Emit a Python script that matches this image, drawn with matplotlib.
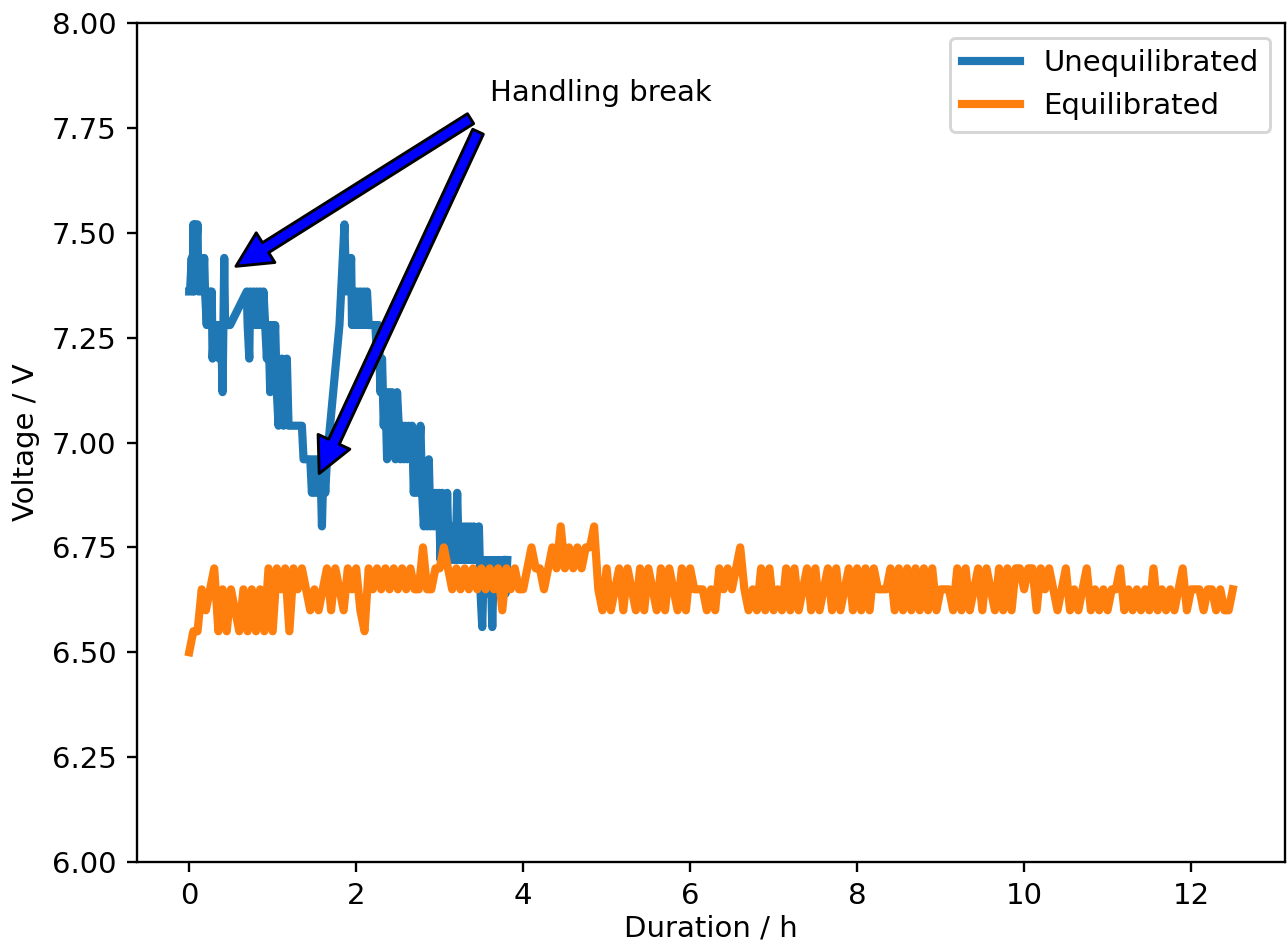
import numpy as np
import matplotlib
matplotlib.use("Agg")
import matplotlib.pyplot as plt

# Unequilibrated series (time in h, voltage in V)
unequil_t = [0.00, 0.01, 0.03, 0.04, 0.05, 0.06, 0.07, 0.08, 0.10, 0.11, 0.13, 0.14, 0.16, 0.18,
             0.19, 0.21, 0.22, 0.24, 0.25, 0.27, 0.28, 0.30, 0.32, 0.34, 0.36, 0.38, 0.40, 0.42,
             0.43, 0.45, 0.49, 0.69, 0.70, 0.72, 0.73, 0.75, 0.77, 0.79, 0.81, 0.83, 0.85, 0.87,
             0.89, 0.91, 0.93, 0.95, 0.97, 0.99, 1.01, 1.03, 1.05, 1.07, 1.09, 1.11, 1.13, 1.15,
             1.17, 1.19, 1.23, 1.27, 1.31, 1.35, 1.37, 1.41, 1.45, 1.47, 1.49, 1.51, 1.53, 1.55,
             1.57, 1.59, 1.61, 1.63, 1.65, 1.80, 1.86, 1.88, 1.90, 1.92, 1.94, 1.95, 1.97, 1.99,
             2.01, 2.03, 2.05, 2.07, 2.09, 2.11, 2.13, 2.15, 2.19, 2.23, 2.25, 2.27, 2.29, 2.31,
             2.33, 2.35, 2.37, 2.39, 2.41, 2.43, 2.45, 2.47, 2.49, 2.51, 2.53, 2.55, 2.57, 2.59,
             2.61, 2.63, 2.65, 2.67, 2.69, 2.71, 2.73, 2.75, 2.77, 2.79, 2.81, 2.83, 2.85, 2.87,
             2.89, 2.91, 2.93, 2.95, 2.97, 2.99, 3.01, 3.03, 3.05, 3.07, 3.09, 3.11, 3.13, 3.15,
             3.17, 3.19, 3.21, 3.23, 3.25, 3.27, 3.29, 3.31, 3.33, 3.35, 3.37, 3.39, 3.41, 3.43,
             3.45, 3.47, 3.49, 3.51, 3.53, 3.55, 3.57, 3.59, 3.61, 3.63, 3.65, 3.67, 3.69, 3.71,
             3.73, 3.75, 3.77, 3.79, 3.81]
unequil_v = [7.36, 7.36, 7.44, 7.36, 7.52, 7.36, 7.52, 7.44, 7.52, 7.36, 7.44, 7.36, 7.36, 7.44,
             7.36, 7.28, 7.36, 7.36, 7.28, 7.36, 7.20, 7.28, 7.28, 7.28, 7.20, 7.28, 7.12, 7.44,
             7.28, 7.28, 7.28, 7.36, 7.28, 7.20, 7.36, 7.28, 7.36, 7.28, 7.36, 7.28, 7.36, 7.28,
             7.36, 7.28, 7.20, 7.28, 7.12, 7.28, 7.20, 7.28, 7.12, 7.04, 7.12, 7.20, 7.04, 7.12,
             7.20, 7.04, 7.04, 7.04, 7.04, 7.04, 6.96, 6.96, 6.96, 6.88, 6.96, 6.88, 6.96, 6.88,
             6.96, 6.80, 6.96, 6.88, 6.96, 7.28, 7.52, 7.36, 7.44, 7.36, 7.44, 7.28, 7.36, 7.28,
             7.36, 7.28, 7.36, 7.28, 7.36, 7.28, 7.36, 7.28, 7.28, 7.28, 7.20, 7.28, 7.12, 7.20,
             7.04, 7.12, 6.96, 7.12, 7.04, 7.12, 7.04, 6.96, 7.12, 7.04, 6.96, 7.04, 6.96, 7.04,
             6.96, 7.04, 6.96, 7.04, 6.88, 6.96, 6.88, 6.96, 7.04, 6.88, 6.80, 6.88, 6.80, 6.96,
             6.80, 6.88, 6.80, 6.88, 6.80, 6.88, 6.72, 6.88, 6.80, 6.72, 6.88, 6.72, 6.80, 6.72,
             6.80, 6.72, 6.88, 6.72, 6.80, 6.72, 6.80, 6.72, 6.80, 6.72, 6.80, 6.72, 6.80, 6.72,
             6.72, 6.80, 6.64, 6.56, 6.72, 6.64, 6.72, 6.64, 6.72, 6.56, 6.72, 6.64, 6.72, 6.64,
             6.72, 6.64, 6.72, 6.64, 6.72]

# Equilibrated series, sampled every 0.05 h from 0 to 12.5 h
equil_step_h = 0.05
equil_v = [
    6.50, 6.55, 6.55, 6.65, 6.60, 6.65, 6.70, 6.55, 6.65, 6.55,   # 0.00-0.45
    6.65, 6.60, 6.55, 6.65, 6.55, 6.65, 6.55, 6.65, 6.55, 6.70,   # 0.50-0.95
    6.55, 6.70, 6.65, 6.70, 6.55, 6.70, 6.65, 6.70, 6.65, 6.60,   # 1.00-1.45
    6.65, 6.60, 6.65, 6.70, 6.60, 6.70, 6.65, 6.60, 6.70, 6.65,   # 1.50-1.95
    6.70, 6.60, 6.55, 6.70, 6.65, 6.70, 6.65, 6.70, 6.65, 6.70,   # 2.00-2.45
    6.65, 6.70, 6.65, 6.70, 6.65, 6.65, 6.75, 6.65, 6.65, 6.70,   # 2.50-2.95
    6.70, 6.75, 6.70, 6.65, 6.70, 6.65, 6.70, 6.65, 6.70, 6.65,   # 3.00-3.45
    6.70, 6.65, 6.70, 6.65, 6.70, 6.60, 6.70, 6.65, 6.70, 6.65,   # 3.50-3.95
    6.65, 6.70, 6.75, 6.70, 6.70, 6.65, 6.70, 6.75, 6.70, 6.80,   # 4.00-4.45
    6.70, 6.75, 6.70, 6.75, 6.70, 6.75, 6.75, 6.80, 6.65, 6.60,   # 4.50-4.95
    6.70, 6.60, 6.65, 6.70, 6.60, 6.70, 6.65, 6.60, 6.70, 6.60,   # 5.00-5.45
    6.70, 6.65, 6.60, 6.70, 6.60, 6.70, 6.65, 6.60, 6.70, 6.60,   # 5.50-5.95
    6.70, 6.65, 6.65, 6.65, 6.60, 6.65, 6.60, 6.70, 6.65, 6.70,   # 6.00-6.45
    6.65, 6.70, 6.75, 6.65, 6.60, 6.65, 6.60, 6.70, 6.60, 6.70,   # 6.50-6.95
    6.60, 6.65, 6.60, 6.70, 6.60, 6.70, 6.60, 6.65, 6.70, 6.60,   # 7.00-7.45
    6.70, 6.60, 6.65, 6.70, 6.60, 6.70, 6.60, 6.65, 6.70, 6.60,   # 7.50-7.95
    6.70, 6.60, 6.70, 6.60, 6.70, 6.65, 6.65, 6.65, 6.70, 6.60,   # 8.00-8.45
    6.70, 6.60, 6.70, 6.60, 6.70, 6.60, 6.70, 6.60, 6.70, 6.60,   # 8.50-8.95
    6.65, 6.65, 6.65, 6.60, 6.70, 6.60, 6.70, 6.60, 6.65, 6.70,   # 9.00-9.45
    6.60, 6.70, 6.65, 6.60, 6.70, 6.60, 6.70, 6.60, 6.70, 6.70,   # 9.50-9.95
    6.65, 6.70, 6.70, 6.60, 6.70, 6.65, 6.70, 6.65, 6.60, 6.65,   # 10.00-10.45
    6.70, 6.60, 6.65, 6.60, 6.65, 6.70, 6.60, 6.65, 6.60, 6.65,   # 10.50-10.95
    6.60, 6.65, 6.65, 6.70, 6.60, 6.65, 6.60, 6.65, 6.60, 6.65,   # 11.00-11.45
    6.60, 6.70, 6.60, 6.65, 6.60, 6.65, 6.60, 6.65, 6.70, 6.60,   # 11.50-11.95
    6.65, 6.65, 6.65, 6.60, 6.65, 6.65, 6.60, 6.65, 6.60, 6.60,   # 12.00-12.45
    6.65,                                                         # 12.50
]
equil_t = [i * equil_step_h for i in range(len(equil_v))]

series_labels = ["Unequilibrated", "Equilibrated"]
annotation_text = "Handling break"
annotation_text_pos = (3.6, 7.815)
annotation_targets = [(0.4, 7.4), (1.45, 6.88)]

W, H, DPI = 1288, 947, 210
fig = plt.figure(figsize=(W / DPI, H / DPI), dpi=DPI)
ax = fig.add_axes([137 / W, 1 - 862 / H, (1285 - 137) / W, (862 - 23) / H])

ax.plot(unequil_t, unequil_v, color="#1f77b4", lw=2.8, label=series_labels[0])
ax.plot(equil_t, equil_v, color="#ff7f0e", lw=2.8, label=series_labels[1])

for i, target in enumerate(annotation_targets):
    ax.annotate(annotation_text, xy=target, xytext=annotation_text_pos,
                color="black" if i == 0 else "none",
                arrowprops=dict(facecolor="blue", shrink=0.05))

ax.set_ylim(6.0, 8.0)
ax.set_xlabel("Duration / h", labelpad=1.5)
ax.set_ylabel("Voltage / V")
ax.legend(loc="upper right")

fig.savefig("out.png", dpi=DPI)
